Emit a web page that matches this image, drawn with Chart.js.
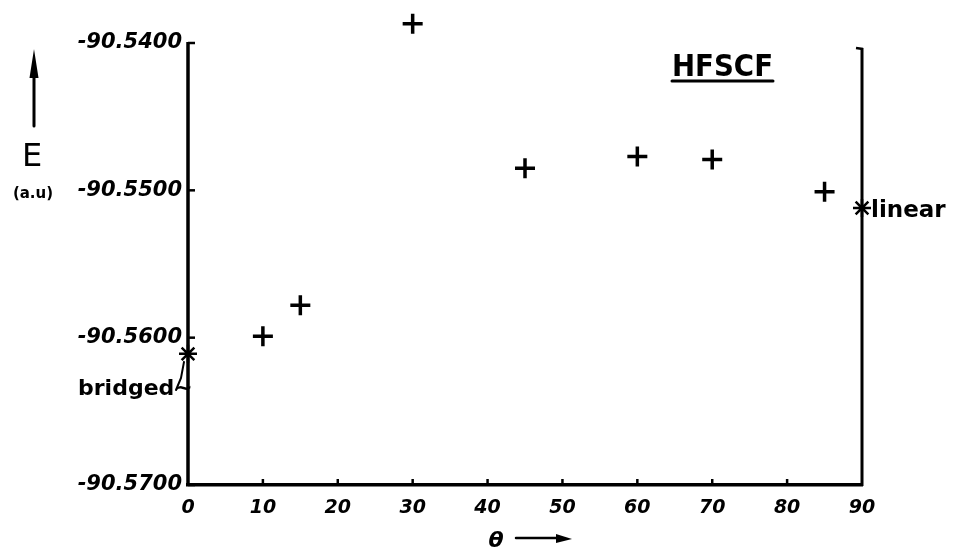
<!DOCTYPE html>
<html>
<head>
<meta charset="utf-8">
<script src="https://cdn.jsdelivr.net/npm/chart.js@4/dist/chart.umd.min.js"></script>
<style>
  html, body { margin: 0; padding: 0; background: #fff; }
  #wrap { width: 957px; height: 550px; }
</style>
</head>
<body>
<div id="wrap"><canvas id="c" width="957" height="550"></canvas></div>
<script>
// ---- data ----
const xTicks = [0, 10, 20, 30, 40, 50, 60, 70, 80, 90];
const xTickLabels = ['0', '10', '20', '30', '40', '50', '60', '70', '80', '90'];
const yTicks = [-90.57, -90.56, -90.55, -90.54];
const yTickLabels = ['-90.5700', '-90.5600', '-90.5500', '-90.5400'];
const plusTheta = [10, 15, 30, 45, 60, 70, 85];
const plusEnergy = [-90.5599, -90.5578, -90.5387, -90.5485, -90.5477, -90.5479, -90.5501];
const starTheta = [0, 90];
const starEnergy = [-90.5611, -90.5512];
const starLabels = ['bridged', 'linear'];
const chartTitle = 'HFSCF';
const yTitle = 'E';
const yUnit = '(a.u)';
const xTitle = 'θ';

const yMin = -90.57, yAxisTop = -90.54, yMax = -90.538;
// top padding so that the -90.5400 tick sits at pixel 43 while the plot area reaches higher
const plotBottom = 485, tickTopPx = 43;
const frac = (yMax - yAxisTop) / (yMax - yMin);
const topPad = (tickTopPx - frac * plotBottom) / (1 - frac);

const yFont = { family: 'DejaVu Sans', size: 21, weight: 'bold', style: 'italic' };
const xFont = { family: 'DejaVu Sans', size: 19, weight: 'bold', style: 'italic' };

const decor = {
  id: 'decor',
  beforeDatasetsDraw(chart) {
    const ctx = chart.ctx;
    const xs = chart.scales.x, ys = chart.scales.y;
    const area = chart.chartArea;
    ctx.save();
    ctx.strokeStyle = '#000';
    ctx.lineCap = 'butt';
    // left axis
    const topY = ys.getPixelForValue(yAxisTop);
    ctx.lineWidth = 3.5;
    ctx.beginPath(); ctx.moveTo(area.left, topY - 1); ctx.lineTo(area.left, area.bottom); ctx.stroke();
    // right axis
    ctx.lineWidth = 3;
    ctx.beginPath(); ctx.moveTo(area.right, topY + 5); ctx.lineTo(area.right, area.bottom + 1); ctx.stroke();
    ctx.lineWidth = 2.5;
    ctx.beginPath(); ctx.moveTo(area.right - 6, topY + 5); ctx.lineTo(area.right + 1, topY + 6); ctx.stroke();
    // inward tick marks on left axis
    yTicks.forEach(v => {
      const py = ys.getPixelForValue(v);
      ctx.beginPath(); ctx.moveTo(area.left, py); ctx.lineTo(area.left + 7, py); ctx.stroke();
    });
    // inward tick marks on bottom axis
    xTicks.forEach(v => {
      if (v === 0 || v === 90) return;
      const px = xs.getPixelForValue(v);
      ctx.beginPath(); ctx.moveTo(px, area.bottom); ctx.lineTo(px, area.bottom - 6); ctx.stroke();
    });
    ctx.restore();
  },
  afterDraw(chart) {
    const ctx = chart.ctx;
    const xs = chart.scales.x, ys = chart.scales.y;
    ctx.save();
    ctx.strokeStyle = '#000';
    ctx.fillStyle = '#000';
    ctx.lineCap = 'round';

    // title HFSCF underlined
    ctx.font = '600 31px "DejaVu Sans"';
    ctx.textAlign = 'left'; ctx.textBaseline = 'alphabetic';
    const tw = ctx.measureText(chartTitle).width;
    const sx = 101 / tw;
    ctx.save();
    ctx.translate(672, 76); ctx.scale(sx, 1);
    ctx.fillText(chartTitle, 0, 0);
    ctx.restore();
    ctx.lineWidth = 3;
    ctx.beginPath(); ctx.moveTo(672, 81); ctx.lineTo(773, 81); ctx.stroke();

    // star labels
    const p0x = xs.getPixelForValue(starTheta[0]), p0y = ys.getPixelForValue(starEnergy[0]);
    ctx.font = '600 22px "DejaVu Sans"';
    ctx.textAlign = 'left';
    ctx.fillText(starLabels[0] + '~', 78, 395);
    ctx.lineWidth = 2;
    ctx.beginPath();
    ctx.moveTo(p0x - 12, 390); ctx.lineTo(p0x - 7, 378); ctx.lineTo(p0x - 4, p0y + 8);
    ctx.stroke();
    const p1x = xs.getPixelForValue(starTheta[1]), p1y = ys.getPixelForValue(starEnergy[1]);
    ctx.font = '600 23px "DejaVu Sans"';
    ctx.textBaseline = 'middle';
    ctx.fillText(starLabels[1], p1x + 9, p1y + 3);

    // E arrow and label
    ctx.lineWidth = 3;
    ctx.beginPath(); ctx.moveTo(34, 126); ctx.lineTo(34, 66); ctx.stroke();
    ctx.beginPath(); ctx.moveTo(34, 49); ctx.lineTo(38.5, 78); ctx.lineTo(29.5, 78); ctx.closePath(); ctx.fill();
    ctx.textAlign = 'center'; ctx.textBaseline = 'alphabetic';
    ctx.font = '32px "DejaVu Sans"';
    ctx.fillText(yTitle, 32, 166);
    ctx.font = 'bold 15px "DejaVu Sans"';
    ctx.fillText(yUnit, 33, 198);

    // theta arrow and label
    ctx.font = 'bold italic 22px "DejaVu Sans"';
    ctx.fillText(xTitle, 496, 547);
    ctx.lineWidth = 2.5;
    ctx.beginPath(); ctx.moveTo(516, 538); ctx.lineTo(560, 538); ctx.stroke();
    ctx.beginPath(); ctx.moveTo(572, 539); ctx.lineTo(556, 534); ctx.lineTo(556, 543); ctx.closePath(); ctx.fill();
    ctx.restore();
  }
};

new Chart(document.getElementById('c'), {
  type: 'scatter',
  data: {
    datasets: [
      {
        label: 'HFSCF',
        data: plusTheta.map((t, i) => ({ x: t, y: plusEnergy[i] })),
        pointStyle: 'cross',
        pointRadius: 10,
        pointBorderWidth: 3.5,
        borderColor: '#000',
        backgroundColor: '#000',
        clip: false
      },
      {
        label: 'limits',
        data: starTheta.map((t, i) => ({ x: t, y: starEnergy[i] })),
        pointStyle: 'star',
        pointRadius: 9,
        pointBorderWidth: 2.5,
        borderColor: '#000',
        backgroundColor: '#000',
        clip: false
      }
    ]
  },
  options: {
    responsive: false,
    animation: false,
    layout: { padding: { top: topPad, right: 95, left: 0, bottom: 0 } },
    plugins: { legend: { display: false }, tooltip: { enabled: false } },
    scales: {
      x: {
        type: 'linear', min: 0, max: 90,
        afterBuildTicks: s => { s.ticks = xTicks.map(v => ({ value: v })); },
        afterFit: s => { s.height = 550 - plotBottom; s.paddingLeft = 0; s.paddingRight = 0; },
        grid: { display: true, drawOnChartArea: false, drawTicks: false },
        border: { display: true, color: '#000', width: 3.5 },
        ticks: {
          color: '#000', font: xFont, padding: 12, maxRotation: 0,
          callback: (v, i) => xTickLabels[i]
        }
      },
      y: {
        type: 'linear', min: yMin, max: yMax,
        afterBuildTicks: s => { s.ticks = yTicks.map(v => ({ value: v })); },
        afterFit: s => { s.width = 188; s.paddingTop = 0; s.paddingBottom = 0; },
        grid: { display: false, drawTicks: false },
        border: { display: false },
        ticks: {
          color: '#000', font: yFont, padding: 6,
          callback: (v, i) => yTickLabels[i]
        }
      }
    }
  },
  plugins: [decor]
});
</script>
</body>
</html>
